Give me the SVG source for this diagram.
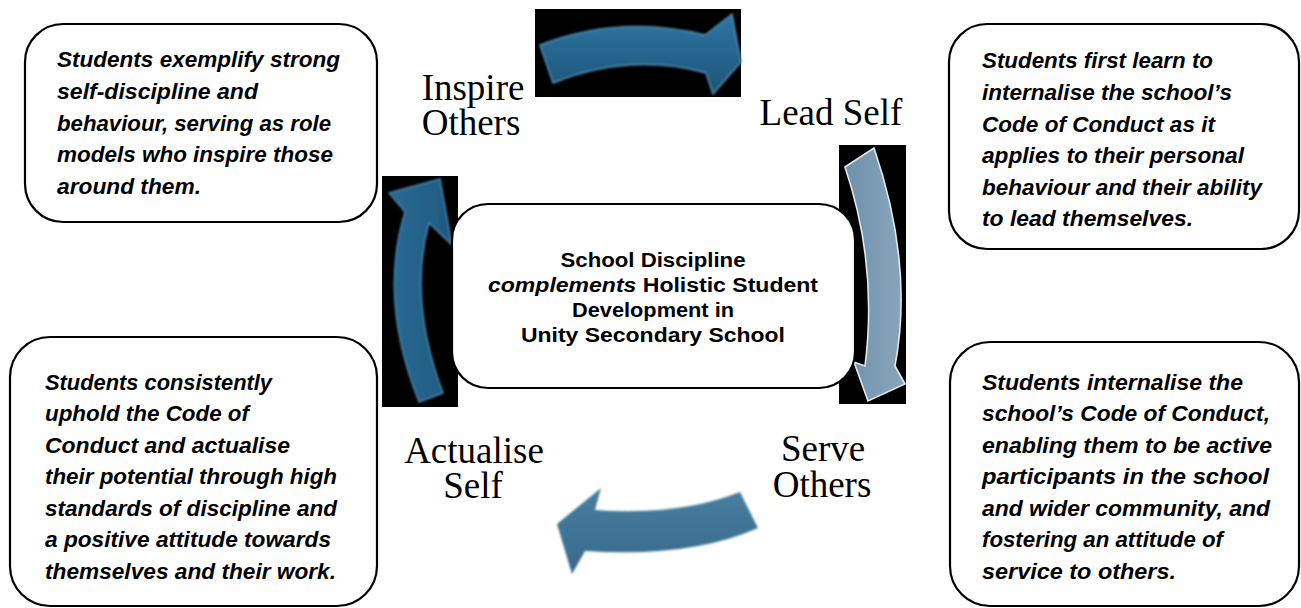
<svg xmlns="http://www.w3.org/2000/svg" width="1301" height="608" viewBox="0 0 1301 608">
<style>
.box{fill:#fff;stroke:#000;stroke-width:2.2}
.body{font-family:"Liberation Sans",Arial,sans-serif;font-size:21.5px;font-weight:bold;font-style:italic;fill:#000}
.ctr{font-family:"Liberation Sans",Arial,sans-serif;font-size:20px;font-weight:bold;fill:#000}
.lbl{font-family:"Liberation Serif","Times New Roman",serif;font-size:37px;fill:#000}
.bg{fill:#000}
</style>
<defs>
<linearGradient id="gBlue" x1="0" y1="0" x2="0" y2="1">
<stop offset="0" stop-color="#2f76a3"/>
<stop offset="1" stop-color="#1c5478"/>
</linearGradient>
<linearGradient id="gBlueH" x1="0" y1="0" x2="1" y2="0">
<stop offset="0" stop-color="#2a6a93"/>
<stop offset="1" stop-color="#1d5a80"/>
</linearGradient>
<linearGradient id="gGrey" x1="0" y1="0" x2="1" y2="0">
<stop offset="0" stop-color="#6f91ab"/>
<stop offset="1" stop-color="#8aa6bd"/>
</linearGradient>
<linearGradient id="gBottom" x1="0" y1="0" x2="0" y2="1">
<stop offset="0" stop-color="#4a7fa0"/>
<stop offset="1" stop-color="#35698b"/>
</linearGradient>
<filter id="soft" x="-10%" y="-10%" width="120%" height="120%">
<feGaussianBlur stdDeviation="1"/>
</filter>
</defs>

<g id="connectors">
<g id="arrow-top">
<rect class="bg" x="535" y="9" width="206" height="88"/>
<path d="M540,45 Q620,14 705,35 L732,14 L741,62 L713,94 L706,73 Q630,52 553,83 Z" fill="url(#gBlue)" stroke="#4f8db5" stroke-width="1.5" filter="url(#soft)"/>
</g>
<g id="arrow-right">
<rect class="bg" x="839" y="145" width="67" height="259"/>
<path d="M845,167 L874,148 Q914,265 895,366 L905,384 L868,401 L854,362 L865,366 Q878,265 845,167 Z" fill="url(#gGrey)" stroke="#dfe8ee" stroke-width="1.6"/>
</g>
<g id="arrow-left">
<rect class="bg" x="382" y="176" width="76" height="231"/>
<path d="M419,402 Q378,300 405,212 L389,193 L440,179 L452,245 L429,223 Q408,300 443,393 Z" fill="url(#gBlueH)" stroke="#4a86ad" stroke-width="1.4" filter="url(#soft)"/>
</g>
<g id="arrow-bottom">
<path d="M740,492 Q680,516 595,510 L601,488 L557,524 L572,574 L585,551 Q690,558 758,528 Z" fill="url(#gBottom)" filter="url(#soft)"/>
</g>
</g>

<g id="label-inspire">
<text class="lbl" x="473" y="100" text-anchor="middle">Inspire</text>
<text class="lbl" x="471" y="135" text-anchor="middle">Others</text>
</g>
<g id="label-lead">
<text class="lbl" x="831" y="125" text-anchor="middle">Lead Self</text>
</g>
<g id="label-actualise">
<text class="lbl" x="474" y="463" text-anchor="middle">Actualise</text>
<text class="lbl" x="473" y="498" text-anchor="middle">Self</text>
</g>
<g id="label-serve">
<text class="lbl" x="823" y="461" text-anchor="middle">Serve</text>
<text class="lbl" x="822" y="497" text-anchor="middle">Others</text>
</g>

<g id="node-center">
<rect class="box" x="452" y="204" width="403" height="184" rx="36"/>
<text class="ctr" x="653" y="267" text-anchor="middle" textLength="185" lengthAdjust="spacingAndGlyphs">School Discipline</text>
<text class="ctr" x="653" y="292" text-anchor="middle" textLength="330" lengthAdjust="spacingAndGlyphs"><tspan font-style="italic">complements</tspan> Holistic Student</text>
<text class="ctr" x="653" y="317" text-anchor="middle" textLength="162" lengthAdjust="spacingAndGlyphs">Development in</text>
<text class="ctr" x="653" y="342" text-anchor="middle" textLength="264" lengthAdjust="spacingAndGlyphs">Unity Secondary School</text>
</g>

<g id="node-inspire">
<rect class="box" x="25" y="24" width="352" height="198" rx="38"/>
<text class="body" x="57" y="67" textLength="283" lengthAdjust="spacingAndGlyphs">Students exemplify strong</text>
<text class="body" x="57" y="99" textLength="201" lengthAdjust="spacingAndGlyphs">self-discipline and</text>
<text class="body" x="57" y="131" textLength="274" lengthAdjust="spacingAndGlyphs">behaviour, serving as role</text>
<text class="body" x="57" y="162" textLength="276" lengthAdjust="spacingAndGlyphs">models who inspire those</text>
<text class="body" x="57" y="194" textLength="144" lengthAdjust="spacingAndGlyphs">around them.</text>
</g>

<g id="node-lead">
<rect class="box" x="949" y="24" width="350" height="225" rx="38"/>
<text class="body" x="982" y="68" textLength="231" lengthAdjust="spacingAndGlyphs">Students first learn to</text>
<text class="body" x="982" y="100" textLength="250" lengthAdjust="spacingAndGlyphs">internalise the school’s</text>
<text class="body" x="982" y="132" textLength="233" lengthAdjust="spacingAndGlyphs">Code of Conduct as it</text>
<text class="body" x="982" y="163" textLength="262" lengthAdjust="spacingAndGlyphs">applies to their personal</text>
<text class="body" x="982" y="195" textLength="280" lengthAdjust="spacingAndGlyphs">behaviour and their ability</text>
<text class="body" x="982" y="226" textLength="211" lengthAdjust="spacingAndGlyphs">to lead themselves.</text>
</g>

<g id="node-actualise">
<rect class="box" x="10" y="337" width="367" height="269" rx="40"/>
<text class="body" x="45" y="390" textLength="227" lengthAdjust="spacingAndGlyphs">Students consistently</text>
<text class="body" x="45" y="421" textLength="204" lengthAdjust="spacingAndGlyphs">uphold the Code of</text>
<text class="body" x="45" y="453" textLength="245" lengthAdjust="spacingAndGlyphs">Conduct and actualise</text>
<text class="body" x="45" y="484" textLength="292" lengthAdjust="spacingAndGlyphs">their potential through high</text>
<text class="body" x="45" y="516" textLength="292" lengthAdjust="spacingAndGlyphs">standards of discipline and</text>
<text class="body" x="45" y="547" textLength="286" lengthAdjust="spacingAndGlyphs">a positive attitude towards</text>
<text class="body" x="45" y="579" textLength="291" lengthAdjust="spacingAndGlyphs">themselves and their work.</text>
</g>

<g id="node-serve">
<rect class="box" x="950" y="342" width="349" height="264" rx="40"/>
<text class="body" x="982" y="390" textLength="261" lengthAdjust="spacingAndGlyphs">Students internalise the</text>
<text class="body" x="982" y="421" textLength="288" lengthAdjust="spacingAndGlyphs">school’s Code of Conduct,</text>
<text class="body" x="982" y="453" textLength="290" lengthAdjust="spacingAndGlyphs">enabling them to be active</text>
<text class="body" x="982" y="484" textLength="287" lengthAdjust="spacingAndGlyphs">participants in the school</text>
<text class="body" x="982" y="516" textLength="288" lengthAdjust="spacingAndGlyphs">and wider community, and</text>
<text class="body" x="982" y="547" textLength="241" lengthAdjust="spacingAndGlyphs">fostering an attitude of</text>
<text class="body" x="982" y="579" textLength="194" lengthAdjust="spacingAndGlyphs">service to others.</text>
</g>
</svg>
